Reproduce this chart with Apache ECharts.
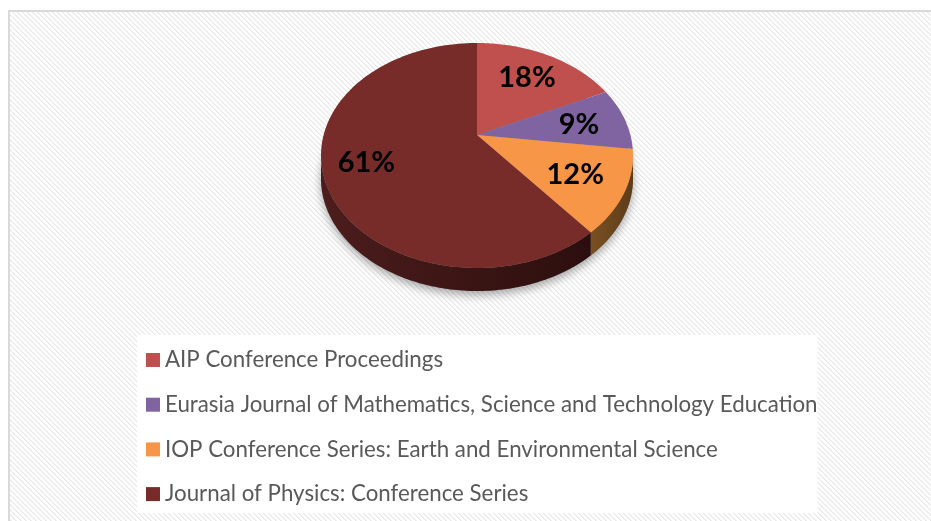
<!DOCTYPE html>
<html>
<head>
<meta charset="utf-8">
<script src="https://cdn.jsdelivr.net/npm/echarts@6/dist/echarts.min.js"></script>
<style>
  html, body { margin: 0; padding: 0; background: #fff; }
  #main { width: 931px; height: 521px; }
</style>
</head>
<body>
<div id="main"></div>
<script>
const names = [
    'AIP Conference Proceedings',
    'Eurasia Journal of Mathematics, Science and Technology Education',
    'IOP Conference Series: Earth and Environmental Science',
    'Journal of Physics: Conference Series'
]
const values = [18, 9, 12, 61]
const colors = ['#C0504D', '#8064A2', '#F79646', '#772C2A']
const sideColors = [['#7a3230', '#5c2322'], ['#51406a', '#3e3052'], ['#7a5022', '#5e3c18'], ['#4c1d1c', '#2c0e0e']]

// projected 3d pie geometry
const CX = 477, CY = 135, SX = 153.4, SY = 108.8, K = 0.182, DEPTH = 23
const total = values.reduce((a, b) => a + b, 0)
const VIS_START = Math.PI - Math.acos(K), VIS_END = Math.PI + Math.acos(K)

function proj(th, f, dy = 0) {
    const s = Math.sin(th), c = Math.cos(th)
    const w = 1 + K * f * c
    return [CX + SX * f * s / w, CY - SY * f * c / w + dy]
}
function arc(a, b, f, dy) {
    const pts = []
    const n = Math.max(2, Math.ceil((b - a) / (Math.PI / 180)))
    for (let j = 0; j <= n; j++) pts.push(proj(a + (b - a) * j / n, f, dy))
    return pts
}

// striped background tile
const tile = document.createElement('canvas')
tile.width = tile.height = 5
const ctx = tile.getContext('2d')
ctx.fillStyle = '#ffffff'
ctx.fillRect(0, 0, 5, 5)
for (let i = 0; i < 5; i++) {
    ctx.fillStyle = '#e8e8e8'
    ctx.fillRect(i, i, 1, 1)
    ctx.fillStyle = '#f2f2f2'
    ctx.fillRect((i + 1) % 5, i, 1, 1)
}

function renderSlice(params, api) {
    const i = params.seriesIndex
    const v = api.value(0)
    const before = values.slice(0, i).reduce((a, b) => a + b, 0)
    const th1 = before / total * Math.PI * 2
    const th2 = (before + v) / total * Math.PI * 2
    const children = []

    if (i === 0) {
        children.push({
            type: 'polygon',
            shape: { points: arc(0, Math.PI * 2, 1, DEPTH) },
            style: { fill: '#888', shadowBlur: 10, shadowOffsetY: 4, shadowColor: 'rgba(0,0,0,0.35)' }
        })
    }

    const a = Math.max(th1, VIS_START), b = Math.min(th2, VIS_END)
    if (b > a) {
        const top = arc(a, b, 1, 0)
        const bottom = arc(a, b, 1, DEPTH).reverse()
        children.push({
            type: 'polygon',
            shape: { points: top.concat(bottom) },
            style: {
                fill: new echarts.graphic.LinearGradient(0, 0, 1, 0, [
                    { offset: 0, color: sideColors[i][0] },
                    { offset: 1, color: sideColors[i][1] }
                ])
            }
        })
    }

    children.push({
        type: 'polygon',
        shape: { points: [[CX, CY]].concat(arc(th1, th2, 1, 0)) },
        style: { fill: colors[i] }
    })

    const lp = proj((th1 + th2) / 2, 0.7)
    children.push({
        type: 'text',
        style: {
            x: lp[0] - (i === 3 ? 5 : 2), y: lp[1] + 1,
            text: Math.round(v / total * 100) + '%',
            fill: '#000',
            font: 'bold 29px Lato',
            align: 'center',
            verticalAlign: 'middle'
        }
    })
    return { type: 'group', children }
}

const chart = echarts.init(document.getElementById('main'))
chart.setOption({
    animation: false,
    backgroundColor: '#fff',
    graphic: [{
        type: 'rect',
        z: -10,
        shape: { x: 9, y: 11, width: 940, height: 530 },
        style: { fill: { image: tile, repeat: 'repeat' }, stroke: '#d9d9d9', lineWidth: 2 }
    }],
    legend: {
        orient: 'vertical',
        left: 137,
        top: 335,
        icon: 'rect',
        itemWidth: 14,
        itemHeight: 14,
        itemGap: 22.7,
        padding: [14, 0, 8, 9],
        backgroundColor: '#fff',
        textStyle: { fontFamily: 'Lato', fontSize: 22.3, color: '#595959', lineHeight: 21 },
        data: names
    },
    series: names.map((n, i) => ({
        name: n,
        type: 'custom',
        coordinateSystem: 'none',
        itemStyle: { color: colors[i] },
        renderItem: renderSlice,
        data: [[values[i]]]
    }))
})
</script>
</body>
</html>
